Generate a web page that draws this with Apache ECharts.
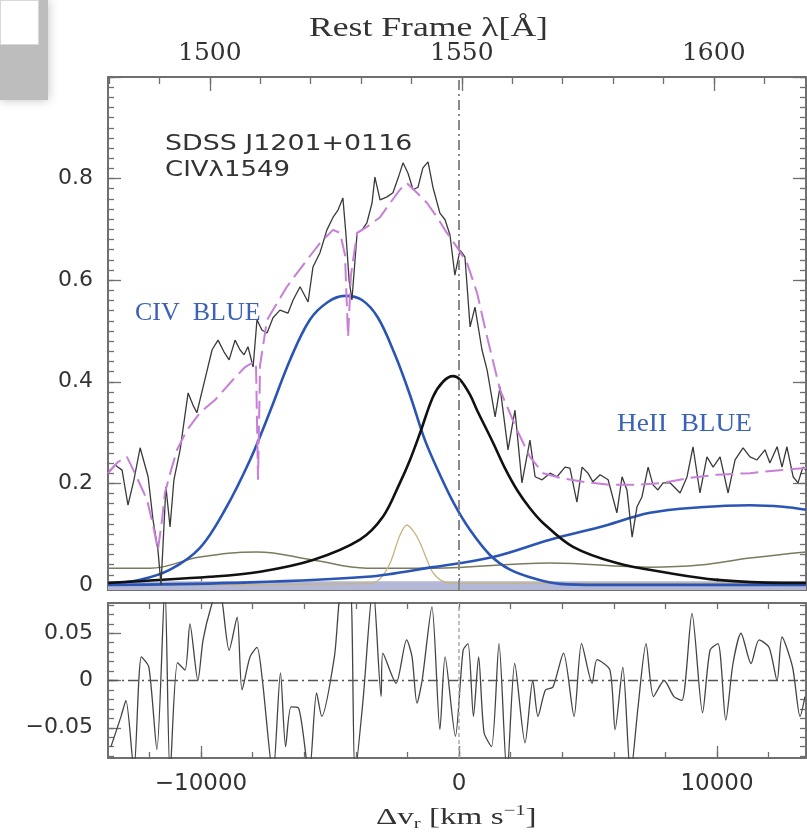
<!DOCTYPE html>
<html>
<head>
<meta charset="utf-8">
<script src="https://cdn.jsdelivr.net/npm/echarts@6/dist/echarts.min.js"></script>
<style>
  html, body { margin: 0; padding: 0; background: #fff; }
  #chart { width: 807px; height: 838px; }
</style>
</head>
<body>
<div id="chart"></div>
<script>
// ---- CIV 1549 profile of SDSS J1201+0116: velocity (km/s) and normalised flux ----
const obsVel = [-13600,-13330,-13060,-12830,-12600,-12360,-12050,-11860,-11670,-11550,-11360,-11200,-11050,-10810,-10500,-10310,-10160,-9850,-9570,-9340,-9110,-8910,-8680,-8490,-8330,-8180,-7980,-7830,-7640,-7440,-7210,-6940,-6630,-6430,-6160,-5850,-5660,-5390,-5120,-4880,-4690,-4500,-4380,-4260,-4150,-4030,-3950,-3760,-3570,-3370,-3260,-3060,-2790,-2560,-2360,-2170,-1980,-1780,-1590,-1400,-1200,-1010,-740,-540,-350,-160,40,230,430,620,890,1090,1400,1590,1900,2170,2440,2750,2950,3220,3530,3800,4110,4300,4570,4770,5000,5190,5470,5780,6120,6320,6510,6710,6900,7090,7330,7520,7710,7910,8180,8570,8840,9070,9340,9610,9850,10120,10430,10700,11010,11280,11550,11860,12050,12330,12520,12710,12950,13140,13330,13450];
const obsFlux = [0.222,0.236,0.226,0.157,0.207,0.270,0.213,0.128,0.069,0.0,0.193,0.114,0.207,0.266,0.378,0.354,0.339,0.404,0.463,0.482,0.459,0.443,0.482,0.463,0.453,0.469,0.429,0.522,0.502,0.496,0.526,0.541,0.535,0.561,0.587,0.557,0.626,0.654,0.699,0.724,0.738,0.762,0.689,0.600,0.561,0.640,0.693,0.699,0.713,0.752,0.803,0.758,0.764,0.772,0.801,0.831,0.811,0.778,0.783,0.821,0.833,0.783,0.732,0.719,0.689,0.610,0.659,0.646,0.508,0.547,0.463,0.423,0.331,0.390,0.266,0.344,0.201,0.285,0.213,0.207,0.220,0.213,0.232,0.230,0.163,0.232,0.220,0.203,0.217,0.207,0.142,0.213,0.187,0.094,0.154,0.173,0.232,0.197,0.187,0.201,0.201,0.181,0.213,0.272,0.181,0.252,0.232,0.252,0.181,0.246,0.270,0.252,0.246,0.266,0.240,0.272,0.232,0.272,0.213,0.201,0.232,0.226];

// total model fit (dashed)
const fitVel = [-13600,-13220,-12870,-12480,-12090,-11860,-11670,-11510,-11400,-11160,-10930,-10540,-10040,-9460,-8760,-8290,-8020,-7870,-7790,-7710,-7440,-7050,-6670,-6280,-5890,-5390,-4880,-4610,-4420,-4300,-4190,-3950,-3570,-3060,-2670,-2290,-2020,-1630,-1240,-850,-470,-80,310,700,1090,1590,2250,2750,3260,3910,4810,5850,6900,7910,8950,10000,11280,12440,13450];
const fitFlux = [0.220,0.242,0.252,0.211,0.167,0.118,0.069,0.128,0.181,0.226,0.266,0.305,0.339,0.364,0.404,0.429,0.437,0.439,0.207,0.433,0.522,0.555,0.587,0.614,0.640,0.673,0.699,0.693,0.650,0.488,0.610,0.693,0.705,0.724,0.752,0.778,0.791,0.772,0.752,0.724,0.693,0.665,0.634,0.575,0.488,0.384,0.305,0.252,0.220,0.211,0.203,0.197,0.197,0.201,0.211,0.217,0.220,0.226,0.230];

// CIV BLUE component
const civBlueVel = [-13600,-12360,-11200,-10040,-9070,-8100,-7330,-6550,-5780,-5080,-4420,-3760,-3140,-2480,-1900,-1320,-740,-160,430,1200,1980,2950,3910,5470,13450];
const civBlueFlux = [0.002,0.010,0.030,0.073,0.148,0.246,0.341,0.443,0.522,0.557,0.569,0.561,0.526,0.453,0.374,0.285,0.217,0.157,0.108,0.059,0.030,0.012,0.002,0.0,0.0];

// CIV broad component (black)
const civBcVel = [-13600,-9650,-7710,-5660,-3840,-2950,-2290,-1900,-1510,-1010,-620,-230,40,430,700,1320,1780,2250,2750,3260,4420,6120,8060,10000,12560,13450];
const civBcFlux = [0.004,0.016,0.026,0.049,0.089,0.134,0.201,0.246,0.299,0.370,0.400,0.411,0.404,0.374,0.344,0.280,0.230,0.187,0.151,0.122,0.075,0.043,0.024,0.010,0.004,0.004];

// HeII BLUE component
const heBlueVel = [-13600,-8760,-3570,-1010,1320,3530,5470,7400,9340,11280,12560,13450];
const heBlueFlux = [0.0,0.004,0.016,0.035,0.055,0.089,0.114,0.142,0.153,0.157,0.154,0.148];

// FeII / continuum-like broad template (olive)
const feVel = [-13600,-11980,-10040,-7830,-5660,-3570,-1010,3530,7400,9340,11280,13450];
const feFlux = [0.033,0.033,0.055,0.065,0.049,0.033,0.033,0.043,0.035,0.039,0.053,0.065];

// narrow component (tan)
const ncVel = [-13600,-3450,-3060,-2670,-2290,-2020,-1740,-1510,-1240,-1010,-660,-160,13450];
const ncFlux = [0.0,0.003,0.012,0.043,0.098,0.118,0.104,0.083,0.049,0.024,0.008,0.003,0.003];

// shaded strip along the base of the profile
const stripVel = [-13605, 13450];
const stripFlux = [0.007, 0.007];

// residuals (data - fit)
const resVel = [-13490,-13100,-12910,-12600,-12310,-12020,-11710,-11400,-11200,-10910,-10620,-10430,-10120,-9920,-9610,-9300,-8910,-8600,-8410,-8100,-7830,-7620,-7210,-6920,-6720,-6510,-6220,-5810,-5520,-5320,-4830,-4530,-4220,-4030,-3720,-3330,-3020,-2950,-2440,-2030,-1820,-1630,-1430,-1050,-740,-540,-140,160,350,560,760,970,1260,1550,1860,2160,2560,2860,3060,3350,3640,4050,4460,4750,5160,5350,5850,6050,6350,6650,6940,7250,7540,7950,8330,8640,9030,9440,9730,10040,10340,10620,10930,11320,11630,12020,12330,12520,12930,13220,13410];
const resFlux = [-0.070,-0.038,-0.021,-0.095,0.025,0.014,-0.073,0.10,-0.10,0.019,0.011,0.060,0.000,0.043,0.078,0.10,0.032,0.067,-0.010,0.025,0.035,0.000,-0.10,0.008,-0.070,-0.028,-0.029,-0.10,-0.013,-0.038,0.025,0.10,0.10,-0.10,-0.021,0.10,-0.017,0.029,-0.003,0.043,0.025,-0.024,0.000,0.078,-0.052,0.025,-0.059,0.032,0.039,-0.038,0.025,-0.055,-0.070,0.039,-0.10,0.018,-0.066,0.000,-0.038,-0.010,-0.007,0.029,-0.038,0.039,-0.003,0.022,0.011,-0.052,0.014,-0.10,-0.028,0.039,-0.017,0.000,-0.017,-0.021,0.071,-0.034,0.032,0.039,-0.042,0.018,0.050,0.018,0.043,0.035,0.000,0.046,0.014,-0.038,-0.017];

// axis extents and tick labels
const velRange = [-13605, 13450];
const lamRange = [1479.8, 1618.3];
const fluxRange = [-0.01, 1.0];
const resRange = [-0.082, 0.082];
const velLabels = [-10000, 0, 10000];
const lamLabels = [1500, 1550, 1600];
const fluxLabels = [0, 0.2, 0.4, 0.6, 0.8];
const resLabels = [-0.05, 0, 0.05];

function steps(a, b, s) { const out = []; for (let v = a; v <= b + 1e-9; v += s) out.push(+v.toFixed(4)); return out; }
const velMinor = steps(-12000, 12000, 2000);
const lamMinor = steps(1480, 1610, 10);
const fluxMinor = steps(0, 1.0, 0.02);
const fluxMajor = steps(0, 1.0, 0.2);
const resMinor = steps(-0.08, 0.08, 0.01);

const zip = (xs, ys) => xs.map((x, i) => [x, ys[i]]);
const plain = v => String(v).replace('-', '\u2212');

const FRAME = '#6f6f6f';
const SANS = 'DejaVu Sans';
const SERIF = 'Liberation Serif';

// one frame side: an axis line plus inward ticks at the given values
function side(gridIndex, position, range, ticks, len, opts) {
  opts = opts || {};
  return {
    type: 'value', gridIndex, position, min: range[0], max: range[1],
    splitLine: { show: false },
    axisLine: { show: opts.line !== false, onZero: false, lineStyle: { color: FRAME, width: 2 } },
    axisTick: { show: true, inside: true, length: len, customValues: ticks, lineStyle: { color: FRAME, width: 1.3 } },
    axisLabel: opts.label ? Object.assign({ show: true, color: '#333', formatter: plain }, opts.label) : { show: false }
  };
}

const xAxes = [
  side(0, 'bottom', velRange, velMinor, 6),
  side(0, 'bottom', velRange, velLabels, 12, { line: false }),
  side(0, 'top', lamRange, lamMinor, 7),
  side(0, 'top', lamRange, lamLabels, 14, { line: false,
    label: { customValues: lamLabels, margin: 11, fontFamily: 'DejaVu Serif', fontSize: 25 } }),
  side(1, 'bottom', velRange, velMinor, 6, {
    label: { customValues: velLabels, margin: 15, fontFamily: SANS, fontSize: 23 } }),
  side(1, 'bottom', velRange, velLabels, 12, { line: false }),
  side(1, 'top', velRange, velMinor, 6)
];

const yAxes = [
  side(0, 'left', fluxRange, fluxMinor, 6, {
    label: { customValues: fluxLabels, margin: 15, fontFamily: SANS, fontSize: 22 } }),
  side(0, 'left', fluxRange, fluxMajor, 13, { line: false }),
  side(0, 'right', fluxRange, fluxMinor, 6),
  side(0, 'right', fluxRange, fluxMajor, 13, { line: false }),
  side(1, 'left', resRange, resMinor, 6, {
    label: { customValues: resLabels, margin: 15, fontFamily: SANS, fontSize: 22 } }),
  side(1, 'left', resRange, resLabels, 13, { line: false }),
  side(1, 'right', resRange, resMinor, 6)
];

function curve(name, xs, ys, color, width, extra) {
  return Object.assign({
    name, type: 'line', xAxisIndex: 0, yAxisIndex: 0, data: zip(xs, ys),
    showSymbol: false, symbol: 'none', smooth: false, silent: true,
    lineStyle: { color, width }, z: 3
  }, extra);
}

const dashDot = [10, 4, 2, 4];

const series = [
  curve('strip', stripVel, stripFlux, '#b3b8d6', 0,
    { areaStyle: { color: '#b3b8d6', origin: 'start', opacity: 1 }, z: 1 }),
  curve('FeII', feVel, feFlux, '#7a7a5e', 1.5, { smooth: 0.4 }),
  curve('NC', ncVel, ncFlux, '#c9b47e', 1.3, { smooth: 0.3 }),
  curve('HeII BLUE', heBlueVel, heBlueFlux, '#2b55b5', 2.6, { smooth: 0.35 }),
  curve('CIV BLUE', civBlueVel, civBlueFlux, '#2b55b5', 2.6, { smooth: 0.35 }),
  curve('CIV BC', civBcVel, civBcFlux, '#111111', 2.6, { smooth: 0.35 }),
  curve('spectrum', obsVel, obsFlux, '#3a3a3a', 1.3, {
    z: 4,
    markLine: {
      silent: true, symbol: 'none', label: { show: false },
      lineStyle: { color: '#8a8a8a', width: 2, type: dashDot },
      data: [{ xAxis: 0 }]
    }
  }),
  curve('fit', fitVel, fitFlux, '#c77fd8', 2, { z: 5, lineStyle: { color: '#c77fd8', width: 2, type: [18, 7] } }),
  {
    name: 'residuals', type: 'line', xAxisIndex: 4, yAxisIndex: 4, data: zip(resVel, resFlux),
    showSymbol: false, symbol: 'none', silent: true, clip: true, smooth: 0.25,
    lineStyle: { color: '#444', width: 1.3 },
    markLine: {
      silent: true, symbol: 'none', label: { show: false },
      lineStyle: { color: '#555', width: 1.3, type: dashDot },
      data: [{ yAxis: 0 }, { xAxis: 0, lineStyle: { color: '#aaa', width: 1.5, type: [4, 3] } }]
    }
  }
];

// text placed at (x, y) with its left/top edge fixed while stretched horizontally
function label(text, x, y, font, size, color, sx, rich) {
  return {
    type: 'text', x, y, scaleX: sx, z: 10,
    style: { text, x: 0, y: 0, fontFamily: font, fontSize: size, fill: color,
      textVerticalAlign: 'top', rich }
  };
}

const chart = echarts.init(document.getElementById('chart'), null, { renderer: 'canvas' });
chart.setOption({
  animation: false,
  backgroundColor: '#fff',
  grid: [
    { left: 108, top: 77, width: 698, height: 513 },
    { left: 108, top: 603, width: 698, height: 155 }
  ],
  xAxis: xAxes,
  yAxis: yAxes,
  series,
  graphic: [
    // small framed box in the corner
    { type: 'rect', left: 0, top: 0, z: 0, shape: { width: 48, height: 100 },
      style: { fill: '#bdbdbd', shadowBlur: 10, shadowColor: 'rgba(0,0,0,0.25)' } },
    { type: 'rect', left: 0, top: 0, z: 1, shape: { width: 38, height: 44 },
      style: { fill: '#ffffff', stroke: '#d8d8d8', lineWidth: 1 } },
    label('Rest Frame \u03bb[\u00c5]', 309, 15, SERIF, 27, '#333', 1.32),
    label('{a|\u0394v}{s|r}{a| [km s}{p|\u22121}{a|]}', 376, 803, SERIF, 24, '#333', 1.38, {
      a: { fontFamily: SERIF, fontSize: 24, fill: '#333' },
      s: { fontFamily: SERIF, fontSize: 15, fill: '#333', padding: [14, 0, 0, 0] },
      p: { fontFamily: SERIF, fontSize: 15, fill: '#333', padding: [0, 0, 12, 0] }
    }),
    label('SDSS J1201+0116', 165, 133, SANS, 22, '#333', 1.22),
    label('CIV\u03bb1549', 165, 159, SANS, 22, '#333', 1.18),
    label('CIV  BLUE', 135, 300, SERIF, 26, '#3b62b8', 1.0),
    label('HeII  BLUE', 617, 411, SERIF, 26, '#3b62b8', 1.05)
  ]
});
</script>
</body>
</html>
